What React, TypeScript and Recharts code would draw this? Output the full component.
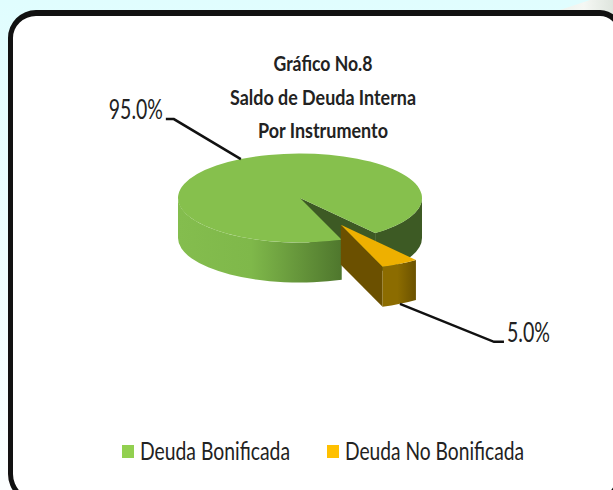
import React from 'react';
import { PieChart, Pie, Legend } from 'recharts';

const categories = ['Deuda Bonificada', 'Deuda No Bonificada'];
const shares = [95, 5];
const titleLines = ['Gráfico No.8', 'Saldo de Deuda Interna', 'Por Instrumento'];

// pull-out of each slice, as a fraction of the radius
const explode = [0, 0.69];
const topColors = ['#86c04d', '#eeb000'];
const cutColors = ['#3d5a24', '#6b5000'];
const legendColors = ['#92d050', '#ffc000'];

const data = categories.map((name, i) => ({ name, value: shares[i], fill: topColors[i] }));

const SQUASH = 0.365;
const DEPTH = 40;
const FONT = 'Lato, sans-serif';
const TEXT = '#222222';

const rad = (d: number) => (d * Math.PI) / 180;

const pt = (cx: number, cy: number, r: number, deg: number) => ({
  x: cx + r * Math.cos(rad(deg)),
  y: cy - r * SQUASH * Math.sin(rad(deg)),
});

const sliceOrigin = (p: any) => {
  const i = categories.indexOf(p.name);
  const mid = (p.startAngle + p.endAngle) / 2;
  return pt(p.cx, p.cy, p.outerRadius * explode[i], mid);
};

// parts of the rim that face the viewer
const frontArcs = (a: number, b: number) =>
  [-360, 0]
    .map((k) => [Math.max(a, 180 + k), Math.min(b, 360 + k)])
    .filter(([s, e]) => e > s);

const Slice3D = (props: any) => {
  const { outerRadius: r, startAngle, endAngle, fill } = props;
  const i = categories.indexOf(props.name);
  const c = sliceOrigin(props);
  const rx = r;
  const ry = r * SQUASH;
  const a = pt(c.x, c.y, r, startAngle);
  const b = pt(c.x, c.y, r, endAngle);
  const large = endAngle - startAngle > 180 ? 1 : 0;
  const gid = `wall-${i}`;
  return (
    <g>
      <defs>
        {i === 0 ? (
          <linearGradient id={gid} gradientUnits="userSpaceOnUse" x1={c.x - r} x2={c.x + r} y1={0} y2={0}>
            <stop offset="0" stopColor="#84bd4e" />
            <stop offset="0.3" stopColor="#7fb84a" />
            <stop offset="0.67" stopColor="#4f772d" />
            <stop offset="0.8" stopColor="#3d5a24" />
            <stop offset="1" stopColor="#3d5a24" />
          </linearGradient>
        ) : (
          <linearGradient id={gid} x1="0" x2="1" y1="0" y2="0">
            <stop offset="0" stopColor="#8c6c00" />
            <stop offset="0.45" stopColor="#8c6c00" />
            <stop offset="1" stopColor="#6b5200" />
          </linearGradient>
        )}
      </defs>
      <path
        d={`M${c.x},${c.y} L${a.x},${a.y} L${a.x},${a.y + DEPTH} L${c.x},${c.y + DEPTH} Z`}
        fill={cutColors[i]}
      />
      {frontArcs(startAngle, endAngle).map(([s, e]) => {
        const p = pt(c.x, c.y, r, s);
        const q = pt(c.x, c.y, r, e);
        return (
          <path
            key={s}
            fill={`url(#${gid})`}
            d={`M${p.x},${p.y} A${rx},${ry} 0 0 0 ${q.x},${q.y} L${q.x},${q.y + DEPTH} A${rx},${ry} 0 0 1 ${p.x},${p.y + DEPTH} Z`}
          />
        );
      })}
      <path d={`M${c.x},${c.y} L${a.x},${a.y} A${rx},${ry} 0 ${large} 0 ${b.x},${b.y} Z`} fill={fill} />
    </g>
  );
};

const SliceLabel = (props: any) => {
  const i = categories.indexOf(props.name);
  const c = sliceOrigin(props);
  const rim = pt(c.x, c.y, props.outerRadius, props.midAngle);
  const left = i === 0;
  const y0 = left ? rim.y : rim.y + DEPTH;
  const elbowX = rim.x + (left ? -67 : 94);
  const elbowY = y0 + (left ? -40 : 38);
  const endX = elbowX + (left ? -8 : 10);
  return (
    <g>
      <polyline points={`${rim.x},${y0} ${elbowX},${elbowY} ${endX},${elbowY}`} fill="none" stroke="#111" strokeWidth={2.5} />
      <text
        x={endX + (left ? -3 : 3)}
        y={elbowY}
        textAnchor={left ? 'end' : 'start'}
        fontFamily={FONT}
        fontSize={26}
        fill={TEXT}
        textLength={left ? 54 : 43}
        lengthAdjust="spacingAndGlyphs"
      >
        {`${props.value.toFixed(1)}%`}
      </text>
    </g>
  );
};

const legendLayout = [
  { swatch: 122, label: 140, width: 150 },
  { swatch: 327, label: 345, width: 179 },
];

const ChartLegend = () => (
  <svg width={613} height={40} style={{ display: 'block' }}>
    {categories.map((name, i) => (
      <g key={name}>
        <rect x={legendLayout[i].swatch} y={9} width={12} height={13} fill={legendColors[i]} />
        <text
          x={legendLayout[i].label}
          y={24}
          fontFamily={FONT}
          fontSize={25}
          fill={TEXT}
          textLength={legendLayout[i].width}
          lengthAdjust="spacingAndGlyphs"
        >
          {name}
        </text>
      </g>
    ))}
  </svg>
);

export default function App() {
  return (
    <div
      style={{
        position: 'fixed',
        left: 0,
        top: 0,
        width: 613,
        height: 490,
        overflow: 'hidden',
        background: 'linear-gradient(#e0fdfe, #fbffff)',
      }}
    >
      <div
        style={{
          position: 'absolute',
          left: 540,
          top: 0,
          width: 73,
          height: 14,
          background: 'linear-gradient(90deg, #e6eee8, #f5f8f4 60%, #dfe5de)',
          clipPath: 'polygon(8px 100%, 50px 0, 100% 0, 100% 100%)',
        }}
      />
      <div
        style={{
          position: 'absolute',
          left: 8,
          top: 10,
          width: 604,
          height: 483,
          boxSizing: 'content-box',
          background: '#fff',
          border: '5px solid #111',
          borderTopWidth: 6,
          borderRadius: '28px 22px 30px 30px',
        }}
      />
      <div style={{ position: 'absolute', left: 0, top: 0 }}>
        <PieChart width={613} height={490} margin={{ top: 0, right: 0, bottom: 0, left: 0 }}>
          {titleLines.map((line, i) => (
            <text
              key={line}
              x={323}
              y={71 + i * 33.5}
              textAnchor="middle"
              fontFamily={FONT}
              fontSize={21}
              fontWeight={700}
              fill={TEXT}
              textLength={[99, 186, 130][i]}
              lengthAdjust="spacingAndGlyphs"
            >
              {line}
            </text>
          ))}
          <Pie
            data={data}
            dataKey="value"
            nameKey="name"
            cx={300}
            cy={198}
            outerRadius={122}
            startAngle={-52}
            endAngle={308}
            isAnimationActive={false}
            shape={Slice3D}
            label={SliceLabel}
            labelLine={false}
          />
          <Legend
            content={ChartLegend}
            wrapperStyle={{ position: 'absolute', left: 0, top: 436, width: 613 }}
          />
        </PieChart>
      </div>
    </div>
  );
}
